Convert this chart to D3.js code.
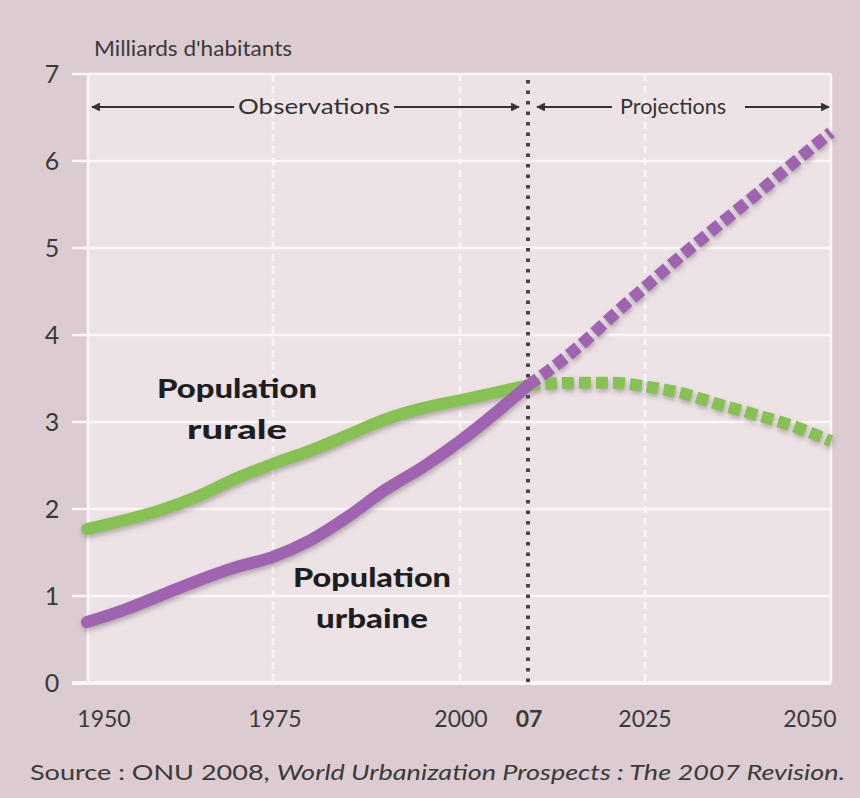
<!DOCTYPE html>
<html><head><meta charset="utf-8">
<script src="https://cdn.jsdelivr.net/npm/d3@7"></script>
<style>
html,body{margin:0;padding:0;background:#dccbd0;}
svg{display:block;font-family:Lato,"Open Sans",sans-serif;}
</style></head>
<body>
<svg id="chart" width="860" height="798"></svg>
<script>
// ---- data ----
const obsYears   = [1950,1955,1960,1965,1970,1975,1980,1985,1990,1995,2000,2007];
const ruralObs   = [1.77,1.87,1.99,2.15,2.35,2.52,2.67,2.85,3.03,3.16,3.25,3.42];
const urbanObs   = [0.70,0.84,1.01,1.18,1.33,1.45,1.64,1.91,2.22,2.48,2.78,3.42];
const projYears  = [2007,2010,2015,2020,2025,2030,2035,2040,2045,2050];
const ruralProj  = [3.42,3.44,3.45,3.45,3.41,3.33,3.20,3.08,2.95,2.78];
const urbanProj  = [3.42,3.58,3.88,4.22,4.55,4.92,5.27,5.62,5.98,6.33];
const yTicks     = [0,1,2,3,4,5,6,7];
const xTickYears = [1950,1975,2000,2007,2025,2050];
const xTickLabels= ["1950","1975","2000","07","2025","2050"];
const gridYears  = [1975,2000,2025];

// ---- layout ----
const svg = d3.select("#chart");
const L = 88, R = 831, T = 74, B = 683;
const x = d3.scaleLinear().domain([1950,1975,2000,2007,2025,2050]).range([87,273,460,528,645,831]);
const y = d3.scaleLinear().domain([0,7]).range([B,T]);

const defs = svg.append("defs");
const f = defs.append("filter").attr("id","sh").attr("x","-10%").attr("y","-10%").attr("width","120%").attr("height","130%");
f.append("feDropShadow").attr("dx",1).attr("dy",3).attr("stdDeviation",2.5).attr("flood-color","#6a5a60").attr("flood-opacity",0.45);

svg.append("rect").attr("width",860).attr("height",798).attr("fill","#dccbd0");
svg.append("rect").attr("x",L).attr("y",T).attr("width",R-L).attr("height",B-T).attr("fill","#ede3e7");

// horizontal grid
svg.append("g").selectAll("line").data(yTicks).join("line")
  .attr("x1",72).attr("x2",R).attr("y1",d=>y(d)).attr("y2",d=>y(d))
  .attr("stroke","#fbf7f9").attr("stroke-width",d=>d===0?4:2.5);
// frame sides
svg.append("line").attr("x1",L).attr("x2",L).attr("y1",T).attr("y2",B).attr("stroke","#fbf7f9").attr("stroke-width",2.5);
svg.append("line").attr("x1",R).attr("x2",R).attr("y1",T).attr("y2",B).attr("stroke","#fbf7f9").attr("stroke-width",2.5);
// vertical dashed grid
svg.append("g").selectAll("line").data(gridYears).join("line")
  .attr("x1",d=>x(d)).attr("x2",d=>x(d)).attr("y1",T).attr("y2",B)
  .attr("stroke","#fbf7f9").attr("stroke-width",2.5).attr("stroke-dasharray","7 5");

// y labels
svg.append("g").selectAll("text").data(yTicks).join("text")
  .attr("x",52).attr("y",d=>y(d)+9).attr("text-anchor","middle")
  .attr("font-size",25).attr("fill","#3a3a3a").text(d=>d);

// title
svg.append("text").attr("x",94).attr("y",56).attr("font-size",22).attr("fill","#3a3a3a")
  .attr("textLength",198).attr("lengthAdjust","spacingAndGlyphs").text("Milliards d'habitants");

// x labels
const xOff = [17,2,1,1,0,-21];
svg.append("g").selectAll("text").data(xTickYears).join("text")
  .attr("x",(d,i)=>x(d)+xOff[i]).attr("y",727).attr("text-anchor","middle")
  .attr("font-size",23).attr("fill","#3a3a3a")
  .attr("font-weight",(d,i)=>i===3?"bold":"normal")
  .text((d,i)=>xTickLabels[i]);

// 07 dotted line
svg.append("line").attr("x1",x(2007)).attr("x2",x(2007)).attr("y1",80).attr("y2",B)
  .attr("stroke","#444").attr("stroke-width",4).attr("stroke-dasharray","3.5 7");

// header arrows
const ah = defs.append("marker").attr("id","arr").attr("viewBox","0 0 10 10").attr("refX",9).attr("refY",5)
  .attr("markerWidth",4).attr("markerHeight",4).attr("orient","auto-start-reverse");
ah.append("path").attr("d","M0,0 L10,5 L0,10 z").attr("fill","#333");
const hy = 107;
const arrows = [[92,234,"start"],[394,519,"end"],[537,612,"start"],[745,829,"end"]];
arrows.forEach(a=>{
  const ln = svg.append("line").attr("x1",a[0]).attr("x2",a[1]).attr("y1",hy).attr("y2",hy)
    .attr("stroke","#333").attr("stroke-width",2.2);
  if(a[2]==="start") ln.attr("marker-start","url(#arr)"); else ln.attr("marker-end","url(#arr)");
});
svg.append("text").attr("x",238).attr("y",hy+7).attr("font-size",21).attr("fill","#333")
  .attr("textLength",152).attr("lengthAdjust","spacingAndGlyphs").text("Observations");
svg.append("text").attr("x",620).attr("y",hy+7).attr("font-size",21).attr("fill","#333")
  .attr("textLength",106).attr("lengthAdjust","spacingAndGlyphs").text("Projections");

// lines
const line = d3.line().x(d=>x(d[0])).y(d=>y(d[1])).curve(d3.curveMonotoneX);
const green = "#88c152", purple = "#a064b2";
const g = svg.append("g").attr("filter","url(#sh)");
g.append("path").datum(projYears.map((d,i)=>[d,ruralProj[i]])).attr("d",line)
  .attr("fill","none").attr("stroke",green).attr("stroke-width",12).attr("stroke-dasharray","12 5");
g.append("path").datum(projYears.map((d,i)=>[d,urbanProj[i]])).attr("d",line)
  .attr("fill","none").attr("stroke",purple).attr("stroke-width",12).attr("stroke-dasharray","12 5");
g.append("path").datum(obsYears.map((d,i)=>[d,ruralObs[i]])).attr("d",line)
  .attr("fill","none").attr("stroke",green).attr("stroke-width",12).attr("stroke-linecap","round");
g.append("path").datum(obsYears.map((d,i)=>[d,urbanObs[i]])).attr("d",line)
  .attr("fill","none").attr("stroke",purple).attr("stroke-width",12).attr("stroke-linecap","round");

// series labels
const lab = (tx,ty,lines,lens)=>{
  const t = svg.append("text").attr("text-anchor","middle").attr("font-size",27).attr("font-weight",900).attr("fill","#1e1e1e");
  lines.forEach((s,i)=>t.append("tspan").attr("x",tx).attr("y",ty+i*41)
    .attr("textLength",lens[i]).attr("lengthAdjust","spacingAndGlyphs").text(s));
};
lab(237,398,["Population","rurale"],[160,100]);
lab(372,587,["Population","urbaine"],[158,112]);

// source
const s = svg.append("text").attr("x",30).attr("y",780).attr("font-size",21).attr("fill","#3a3a3a")
  .attr("textLength",815).attr("lengthAdjust","spacingAndGlyphs");
s.append("tspan").text("Source : ONU 2008, ");
s.append("tspan").attr("font-style","italic").text("World Urbanization Prospects : The 2007 Revision.");
</script>
</body></html>
